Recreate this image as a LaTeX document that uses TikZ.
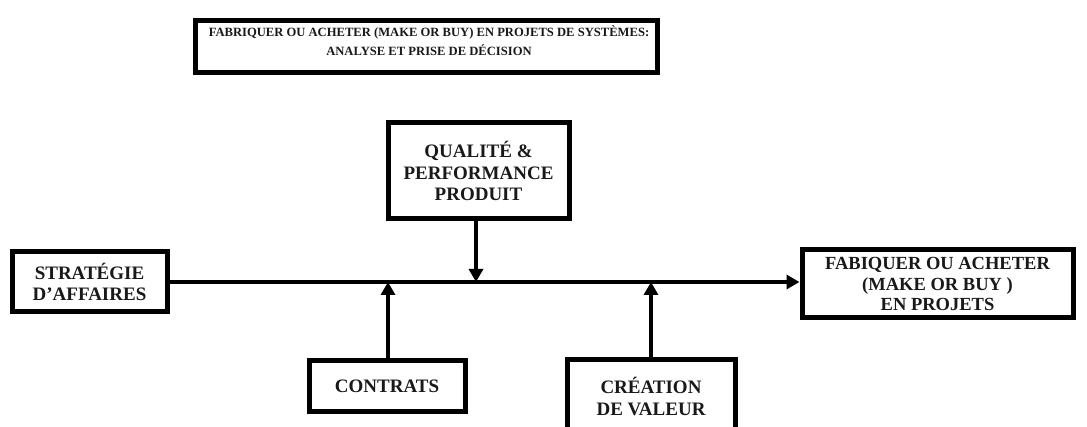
\documentclass[tikz,border=0pt]{standalone}
\usepackage{fontspec}
\setmainfont{Liberation Serif}
\usetikzlibrary{arrows.meta}
\begin{document}
\begin{tikzpicture}[x=1pt,y=-1pt,
  box/.style={draw=black, line width=5pt, fill=white, inner sep=0pt, align=center,
    font=\bfseries\fontsize{19}{21.5}\selectfont, text=black!90},
  conn/.style={line width=3.5pt, -{Triangle[length=13pt,width=14pt]}}]
\useasboundingbox (0,0) rectangle (1087,427);
\fill[white] (0,0) rectangle (1087,427);
% title
\node[box, minimum width=462pt, minimum height=52pt] (title) at (426.5,46.5) {};
\node[align=center, inner sep=0pt, text=black!90, font=\bfseries\fontsize{12.6}{19}\selectfont] (titletext) at (429,41)
  {FABRIQUER OU ACHETER (MAKE OR BUY) EN PROJETS DE SYSTÈMES:\\ANALYSE ET PRISE DE DÉCISION};
% boxes
\node[box, minimum width=155pt, minimum height=60pt] (strat) at (89.5,282) {STRATÉGIE\\D’AFFAIRES};
\node[box, minimum width=181pt, minimum height=96pt] (qual) at (478.5,171) {QUALITÉ \&\\PERFORMANCE\\PRODUIT};
\node[box, minimum width=156pt, minimum height=51pt] (contr) at (387,386.5) {CONTRATS};
\node[box, minimum width=168pt, minimum height=73pt] (crea) at (651,396.5) {CRÉATION\\DE VALEUR};
\node[box, minimum width=271pt, minimum height=68pt, font=\bfseries\fontsize{18.5}{20.5}\selectfont] (fab) at (937.5,284) {FABIQUER OU ACHETER\\(MAKE OR BUY )\\EN PROJETS};
% main line
\coordinate (fabin) at (fab.west |- strat.east);
\draw[conn] (strat.east) -- (fabin);
\coordinate (qin) at (476,282);
\coordinate (cin) at (388,282);
\coordinate (vin) at (651,282);
\draw[conn] (qual.south -| qin) -- (qin);
\draw[conn] (contr.north -| cin) -- (cin);
\draw[conn] (crea.north -| vin) -- (vin);
\end{tikzpicture}
\end{document}
